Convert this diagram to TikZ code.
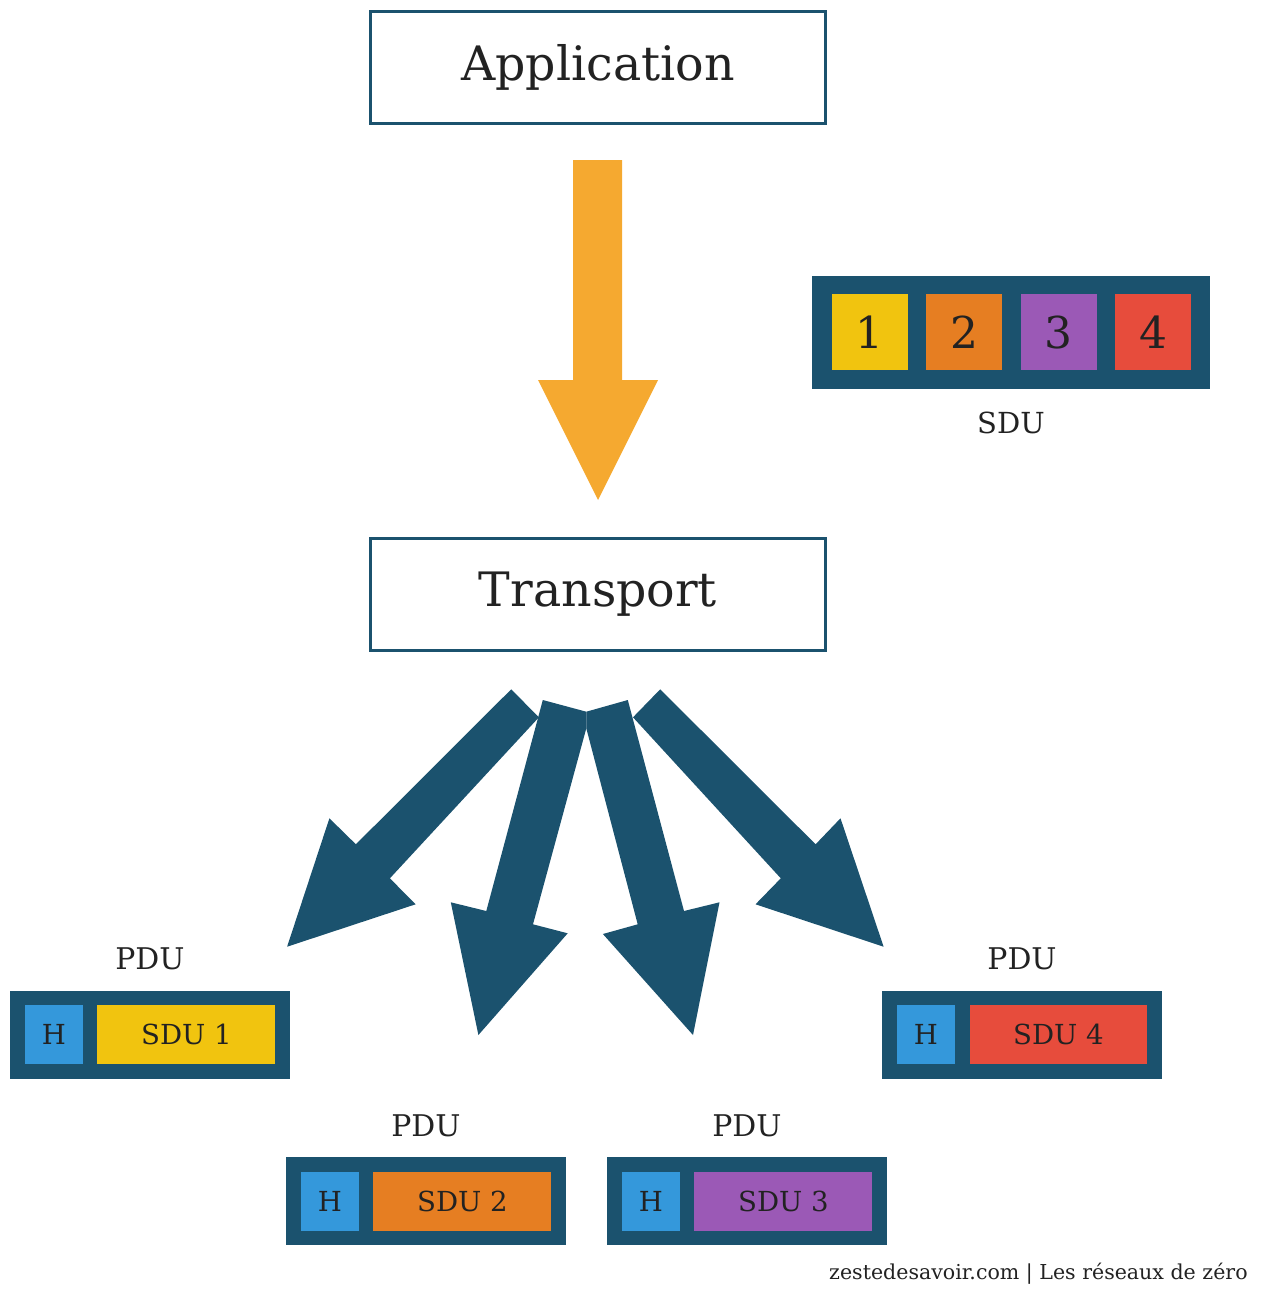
\documentclass[tikz,border=0pt]{standalone}
\usepackage{fontspec}
\setmainfont{DejaVu Serif}
\usetikzlibrary{positioning,calc}
\definecolor{zdsblue}{HTML}{1B526E}
\definecolor{zdsorange}{HTML}{F5A930}
\definecolor{cyellow}{HTML}{F1C40F}
\definecolor{corange}{HTML}{E67E22}
\definecolor{cpurple}{HTML}{9B59B6}
\definecolor{cred}{HTML}{E74C3C}
\definecolor{cblue}{HTML}{3498DB}
\definecolor{ink}{HTML}{222222}
\begin{document}
\begin{tikzpicture}[x=0.02cm, y=-0.02cm, text=ink,
	layer/.style={draw=zdsblue, line width=1.7pt, fill=white, minimum width=9.1cm, minimum height=2.24cm, font=\fontsize{27}{32}\selectfont},
	frame/.style={fill=zdsblue, minimum width=5.6cm, minimum height=1.76cm, inner sep=0pt},
	cell/.style={minimum width=1.52cm, minimum height=1.52cm, inner sep=0pt, font=\fontsize{25}{28}\selectfont},
	hdr/.style={fill=cblue, minimum width=1.16cm, minimum height=1.18cm, inner sep=0pt, font=\fontsize{15.7}{18}\selectfont},
	part/.style={minimum width=3.56cm, minimum height=1.18cm, inner sep=0pt, font=\fontsize{15.7}{18}\selectfont},
	lbl/.style={inner sep=0pt, font=\fontsize{17}{20}\selectfont}]
	\useasboundingbox (0,0) rectangle (1264,1289);
	\node[layer] (app) at (598,67.5) {Application};
	\node[layer] (trans) at (598,594.5) {Transport};
	% big orange arrow
	\fill[zdsorange] (573,160) -- (622,160) -- (622,380) -- (658,380) -- (598,500) -- (538,380) -- (573,380) -- cycle;
	% SDU
	\node[frame, minimum width=7.96cm, minimum height=2.26cm] (sdu) at (1011,332.3) {};
	\foreach \i/\c in {1/cyellow,2/corange,3/cpurple,4/cred}
		\node[cell, fill=\c] (s\i) at (775+94.5*\i,332.3) {\i};
	\node[lbl, font=\fontsize{16.5}{19}\selectfont, below=0.44cm of sdu] (sdulbl) {SDU};
	% fan of arrows
	\fill[zdsblue] (511.2,689.3) -- (538.9,717.3) -- (389.9,878.3) -- (415.6,904.3) -- (287.1,946.7) -- (329.4,818.3) -- (355.9,844.3) -- cycle;
	\fill[zdsblue] (542.8,700) -- (586.3,711.7) -- (586.3,728.3) -- (533,924.3) -- (567.7,933.3) -- (478.4,1035) -- (450.8,902.3) -- (486.3,911) -- cycle;
	\fill[zdsblue] (586.3,711.7) -- (627.8,700) -- (684,911) -- (719.5,902.3) -- (693,1035) -- (602.9,934) -- (637.7,924.3) -- (586.3,728.3) -- cycle;
	\fill[zdsblue] (660.2,689.3) -- (633,717.3) -- (780.8,878.3) -- (755.5,904.3) -- (883.6,946.7) -- (840.5,818.3) -- (815.6,844.3) -- cycle;
	% PDUs
	\foreach \i/\x/\y/\c in {1/150/1034.5/cyellow, 2/426/1201/corange, 3/747/1201/cpurple, 4/1022/1034.5/cred}{
		\node[frame] (pdu\i) at (\x,\y) {};
		\node[hdr] (h\i) at ($(pdu\i.west)+(44.2,0)$) {H};
		\node[part, fill=\c] (d\i) at ($(pdu\i.west)+(176.8,0)$) {SDU \i};
		\node[lbl, above=0.39cm of pdu\i] (p\i) {PDU};
	}
	\node[anchor=base east, inner sep=0pt, font=\fontsize{11.7}{14}\selectfont] (credit) at (1248,1279) {zestedesavoir.com | Les réseaux de zéro};
\end{tikzpicture}
\end{document}
